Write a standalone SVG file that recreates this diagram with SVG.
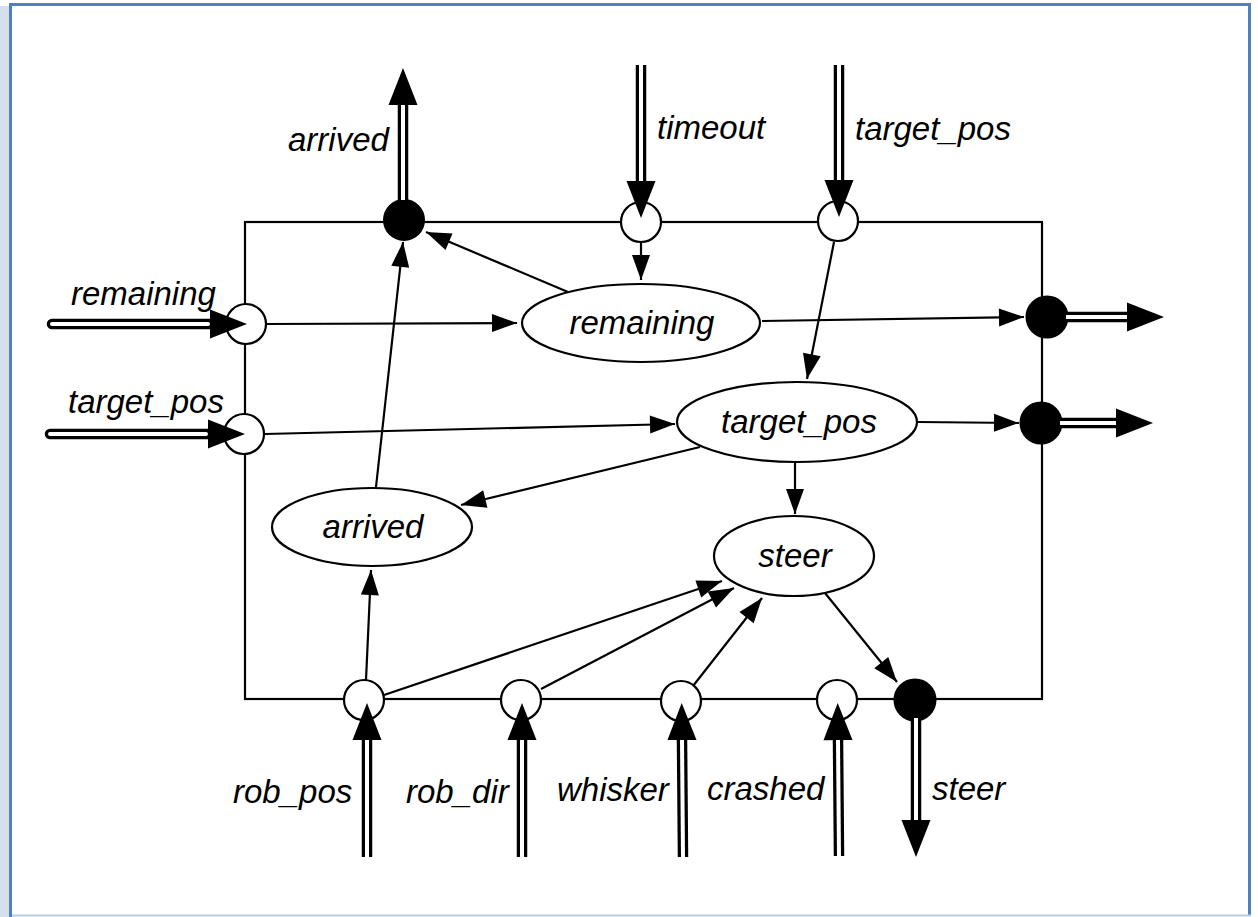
<svg xmlns="http://www.w3.org/2000/svg" width="1258" height="917" viewBox="0 0 1258 917">
<style>
  .lbl { font-family: "Liberation Sans", Arial, sans-serif; font-style: italic; font-size: 33px; fill: #000; }
  .mid { text-anchor: middle; }
  .box { fill: none; stroke: #000; stroke-width: 2.2; }
  .ell { fill: #fff; stroke: #000; stroke-width: 2.2; }
  .pin { fill: #fff; stroke: #000; stroke-width: 2.2; }
  .pout { fill: #000; stroke: #000; stroke-width: 2; }
  .con { fill: none; stroke: #000; stroke-width: 2.2; marker-end: url(#arr); }
  .pipe { fill: none; stroke: #000; stroke-width: 10.5; marker-end: url(#big); }
  .pipein { fill: none; stroke: #fff; stroke-width: 4; }
  .rnd { stroke-linecap: round; }
</style>
<defs>
  <marker id="arr" markerUnits="userSpaceOnUse" markerWidth="26" markerHeight="18" refX="25" refY="9" orient="auto" overflow="visible">
    <path d="M0,0 L25,9 L0,18 z" fill="#000"/>
  </marker>
  <marker id="big" markerUnits="userSpaceOnUse" markerWidth="38" markerHeight="30" refX="0" refY="14.5" orient="auto" overflow="visible">
    <path d="M0,0 L37,14.5 L0,29 z" fill="#000"/>
  </marker>
</defs>

<!-- page frame -->
<g id="frame">
  <rect x="0" y="0" width="1258" height="917" fill="#fff"/>
  <rect x="0" y="6" width="9" height="911" fill="#d6e0ec"/>
  <line x1="10.5" y1="3" x2="10.5" y2="917" stroke="#4f81bd" stroke-width="3"/>
  <line x1="9" y1="4.5" x2="1251" y2="4.5" stroke="#4f81bd" stroke-width="3"/>
  <line x1="1249.5" y1="3" x2="1249.5" y2="915" stroke="#4f81bd" stroke-width="3"/>
  <line x1="12" y1="915.5" x2="1251" y2="915.5" stroke="#b8cce4" stroke-width="2"/>
</g>

<g id="module">
  <rect class="box" x="245" y="222" width="797" height="477"/>
</g>

<g id="connectors">
  <line class="con" x1="266" y1="324" x2="517" y2="323"/>
  <line class="con" x1="265" y1="434" x2="675" y2="424"/>
  <line class="con" x1="762" y1="321" x2="1024" y2="317"/>
  <line class="con" x1="918" y1="422" x2="1019" y2="423"/>
  <line class="con" x1="641" y1="242" x2="641" y2="280"/>
  <line class="con" x1="834" y1="242" x2="807" y2="379"/>
  <line class="con" x1="568" y1="292" x2="426" y2="232"/>
  <line class="con" x1="376" y1="487" x2="403" y2="242"/>
  <line class="con" x1="700" y1="447" x2="461" y2="505"/>
  <line class="con" x1="795" y1="463" x2="795" y2="514"/>
  <line class="con" x1="366" y1="680" x2="371" y2="570"/>
  <line class="con" x1="384" y1="695" x2="722" y2="581"/>
  <line class="con" x1="541" y1="689" x2="734" y2="588"/>
  <line class="con" x1="693" y1="686" x2="762" y2="598"/>
  <line class="con" x1="825" y1="593" x2="897" y2="682"/>
</g>

<g id="node-remaining">
  <ellipse class="ell" cx="641" cy="323" rx="119" ry="39"/>
  <text class="lbl mid" x="642" y="334">remaining</text>
</g>
<g id="node-target_pos">
  <ellipse class="ell" cx="797" cy="422" rx="120" ry="40"/>
  <text class="lbl mid" x="799" y="433">target_pos</text>
</g>
<g id="node-arrived">
  <ellipse class="ell" cx="372" cy="527" rx="100" ry="39"/>
  <text class="lbl mid" x="373" y="538">arrived</text>
</g>
<g id="node-steer">
  <ellipse class="ell" cx="794" cy="556" rx="80" ry="40"/>
  <text class="lbl mid" x="795" y="567">steer</text>
</g>

<!-- ports -->
<g id="port-arrived-out"><circle class="pout" cx="404" cy="220" r="20"/></g>
<g id="port-timeout-in"><circle class="pin" cx="641" cy="222" r="20"/></g>
<g id="port-target_pos-in-top"><circle class="pin" cx="838" cy="221" r="20"/></g>
<g id="port-remaining-in"><circle class="pin" cx="246" cy="324" r="20"/></g>
<g id="port-target_pos-in-left"><circle class="pin" cx="244" cy="434" r="20"/></g>
<g id="port-remaining-out"><circle class="pout" cx="1047" cy="317" r="20.5"/></g>
<g id="port-target_pos-out"><circle class="pout" cx="1041" cy="423" r="20.5"/></g>
<g id="port-rob_pos-in"><circle class="pin" cx="364" cy="700" r="20"/></g>
<g id="port-rob_dir-in"><circle class="pin" cx="521" cy="700" r="20"/></g>
<g id="port-whisker-in"><circle class="pin" cx="681" cy="701" r="20"/></g>
<g id="port-crashed-in"><circle class="pin" cx="837" cy="700" r="20"/></g>
<g id="port-steer-out"><circle class="pout" cx="915" cy="700" r="20.5"/></g>

<!-- external flows -->
<g id="flow-arrived-out">
  <line class="pipe" x1="403" y1="220" x2="403" y2="105"/>
  <line class="pipein" x1="403" y1="200" x2="403" y2="105"/>
  <text class="lbl" x="288" y="151">arrived</text>
</g>
<g id="flow-timeout-in">
  <line class="pipe" x1="641" y1="65" x2="641" y2="181"/>
  <line class="pipein" x1="641" y1="65" x2="641" y2="181"/>
  <text class="lbl" x="657" y="139">timeout</text>
</g>
<g id="flow-target_pos-in-top">
  <line class="pipe" x1="839" y1="65" x2="839" y2="180"/>
  <line class="pipein" x1="839" y1="65" x2="839" y2="180"/>
  <text class="lbl" x="855" y="140">target_pos</text>
</g>
<g id="flow-remaining-in">
  <line class="pipe rnd" x1="52" y1="324" x2="210" y2="324"/>
  <line class="pipein rnd" x1="52" y1="324" x2="208" y2="324"/>
  <text class="lbl" x="71" y="305">remaining</text>
</g>
<g id="flow-target_pos-in-left">
  <line class="pipe rnd" x1="50" y1="434" x2="208" y2="434"/>
  <line class="pipein rnd" x1="50" y1="434" x2="206" y2="434"/>
  <text class="lbl" x="68" y="413">target_pos</text>
</g>
<g id="flow-remaining-out">
  <line class="pipe" x1="1062" y1="317" x2="1127" y2="317"/>
  <line class="pipein" x1="1066" y1="317" x2="1127" y2="317"/>
</g>
<g id="flow-target_pos-out">
  <line class="pipe" x1="1056" y1="423" x2="1116" y2="423"/>
  <line class="pipein" x1="1060" y1="423" x2="1116" y2="423"/>
</g>
<g id="flow-rob_pos-in">
  <line class="pipe" x1="367" y1="857" x2="367" y2="740"/>
  <line class="pipein" x1="367" y1="857" x2="367" y2="740"/>
  <text class="lbl" x="233" y="803">rob_pos</text>
</g>
<g id="flow-rob_dir-in">
  <line class="pipe" x1="522" y1="857" x2="522" y2="740"/>
  <line class="pipein" x1="522" y1="857" x2="522" y2="740"/>
  <text class="lbl" x="406" y="803">rob_dir</text>
</g>
<g id="flow-whisker-in">
  <line class="pipe" x1="683" y1="857" x2="682" y2="740"/>
  <line class="pipein" x1="683" y1="857" x2="682" y2="740"/>
  <text class="lbl" x="557" y="801">whisker</text>
</g>
<g id="flow-crashed-in">
  <line class="pipe" x1="839" y1="856" x2="838" y2="740"/>
  <line class="pipein" x1="839" y1="856" x2="838" y2="740"/>
  <text class="lbl" x="707" y="800">crashed</text>
</g>
<g id="flow-steer-out">
  <line class="pipe" x1="916" y1="715" x2="916" y2="820"/>
  <line class="pipein" x1="916" y1="718" x2="916" y2="820"/>
  <text class="lbl" x="932" y="800">steer</text>
</g>
</svg>
